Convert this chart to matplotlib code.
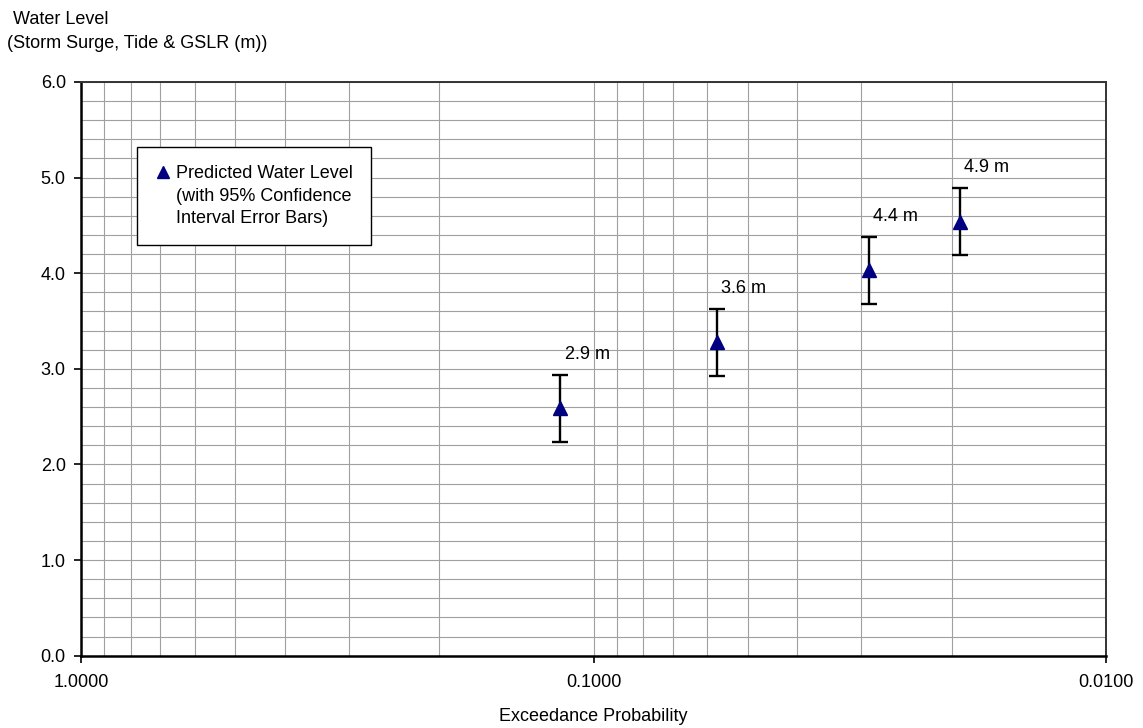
import matplotlib.pyplot as plt
from matplotlib.lines import Line2D
from matplotlib.ticker import FixedLocator, LogLocator, MultipleLocator, NullFormatter

plt.rcParams['font.family'] = ['Liberation Sans', 'DejaVu Sans']
plt.rcParams['font.size'] = 13

# exceedance probability of each predicted level
probability = [0.116, 0.0575, 0.029, 0.0193]
level = [2.59, 3.28, 4.03, 4.54]
ci = [0.35, 0.35, 0.35, 0.35]
labels = ['2.9 m', '3.6 m', '4.4 m', '4.9 m']
xticks = [1.0, 0.1, 0.01]

fig = plt.figure(figsize=(11.43, 7.28), dpi=100)
ax = fig.add_axes([0.0709, 0.0993, 0.8967, 0.7881])

ax.errorbar(probability, level, yerr=ci, fmt='^', color='#000080', markersize=10,
            ecolor='black', elinewidth=1.7, capsize=5.5, capthick=1.7, zorder=3)

for p, v, e, t in zip(probability, level, ci, labels):
    ax.annotate(t, (p, v + e), xytext=(3, 14.5), textcoords='offset points',
                ha='left', va='center')

ax.set_xscale('log')
ax.set_xlim(1.0, 0.01)
ax.set_ylim(0, 6)
ax.xaxis.set_major_locator(FixedLocator(xticks))
ax.set_xticklabels([f'{x:.4f}' for x in xticks])
ax.xaxis.set_minor_locator(LogLocator(base=10, subs=range(2, 10)))
ax.xaxis.set_minor_formatter(NullFormatter())
ax.yaxis.set_major_locator(MultipleLocator(1.0))
ax.yaxis.set_minor_locator(MultipleLocator(0.2))
ax.yaxis.set_major_formatter(plt.FormatStrFormatter('%.1f'))

ax.grid(True, which='both', color='#a0a0a0', linewidth=0.8)
ax.set_axisbelow(True)
ax.tick_params(which='major', direction='out', length=5, width=1.2)
ax.tick_params(which='minor', length=0)
ax.tick_params(axis='x', pad=8.5)
ax.tick_params(axis='y', pad=6)
for side in ['left', 'bottom']:
    ax.spines[side].set_linewidth(1.8)
for side in ['top', 'right']:
    ax.spines[side].set_linewidth(1.4)
    ax.spines[side].set_color('#333333')

ax.set_xlabel('Exceedance Probability', labelpad=12)
fig.text(13 / 1143, 1 - 19 / 728, 'Water Level', ha='left', va='center')
fig.text(7 / 1143, 1 - 43 / 728, '(Storm Surge, Tide & GSLR (m))', ha='left', va='center')

handles = [Line2D([], [], marker='^', color='#000080', linestyle='none', markersize=8.5),
           Line2D([], [], linestyle='none'),
           Line2D([], [], linestyle='none')]
leg_text = ['Predicted Water Level', '(with 95% Confidence', 'Interval Error Bars)']
leg = ax.legend(handles, leg_text, loc='upper left', bbox_to_anchor=(0.0549, 0.886),
                borderaxespad=0, fancybox=False, framealpha=1, edgecolor='black',
                handlelength=0.9, handletextpad=0.25, labelspacing=0.3, borderpad=1.0)
leg.get_frame().set_linewidth(1.0)

fig.savefig('out.png', dpi=100)
